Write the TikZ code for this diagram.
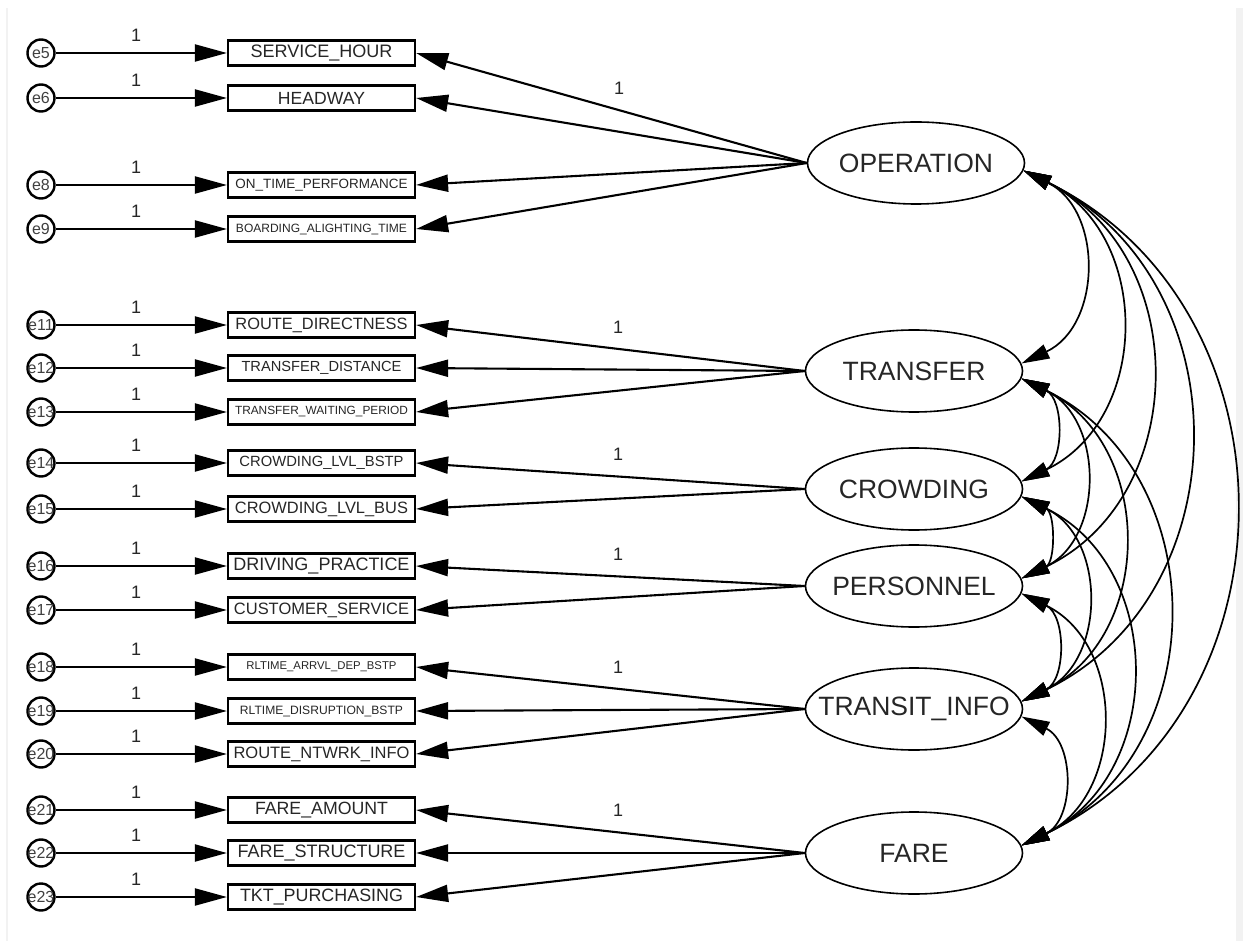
\documentclass[tikz,border=0pt]{standalone}
\usepackage{fontspec}
\setmainfont{Liberation Sans}
\usetikzlibrary{arrows.meta,calc,shapes.geometric}
\newcommand{\bt}[2]{\resizebox{#1pt}{!}{\fontsize{18}{18}\selectfont #2}}
\newcommand{\lt}[1]{\makebox[0pt]{#1}}
\begin{document}
\begin{tikzpicture}[x=1pt,y=-1pt,
  err/.style={circle, draw, line width=2.4pt, minimum size=27pt, inner sep=0pt, font=\fontsize{16}{16}\selectfont, text=black!75},
  obs/.style={rectangle, draw, line width=2.2pt, minimum width=187pt, minimum height=25pt, inner sep=0pt, text=black!85},
  lat/.style={ellipse, draw, line width=1.6pt, minimum width=217pt, minimum height=82pt, inner sep=0pt, font=\fontsize{26.5}{26.5}\selectfont, text=black!85},
  arr/.style={line width=2.1pt, -{Triangle[length=32pt,width=17pt]}},
  cov/.style={line width=1.7pt, {Triangle[length=28pt,width=15pt]}-{Triangle[length=28pt,width=15pt]}, bend left=64, looseness=1.18},
  one/.style={font=\fontsize{18}{18}\selectfont, inner sep=0pt, text=black!85},
  frame/.style={fill=black!5, draw=none}
]
\useasboundingbox[fill=white] (0,0) rectangle (1243,941);
\fill[frame] (6,8) rectangle (8,941);
\fill[frame] (1236,8) rectangle (1243,941);

% latent variables
\node[lat] (OP) at (916,163) {\lt{OPERATION}};
\node[lat] (TR) at (914,371) {\lt{TRANSFER}};
\node[lat] (CR) at (914,489) {\lt{CROWDING}};
\node[lat] (PE) at (914,586) {\lt{PERSONNEL}};
\node[lat] (TI) at (914,709) {\lt{TRANSIT\_INFO}};
\node[lat] (FA) at (914,853) {\lt{FARE}};

% observed variables
\foreach \n/\y/\w/\t in {
  5/53/142/SERVICE\_HOUR,
  6/98/87/HEADWAY,
  8/185/172/ON\_TIME\_PERFORMANCE,
  9/229/171/BOARDING\_ALIGHTING\_TIME,
  11/325/172/ROUTE\_DIRECTNESS,
  12/368/160/TRANSFER\_DISTANCE,
  13/412/173/TRANSFER\_WAITING\_PERIOD,
  14/463/164/CROWDING\_LVL\_BSTP,
  15/509/173/CROWDING\_LVL\_BUS,
  16/566/176/DRIVING\_PRACTICE,
  17/610/175/CUSTOMER\_SERVICE,
  18/667/150/RLTIME\_ARRVL\_DEP\_BSTP,
  19/711/163/RLTIME\_DISRUPTION\_BSTP,
  20/754/176/ROUTE\_NTWRK\_INFO,
  21/810/133/FARE\_AMOUNT,
  22/853/168/FARE\_STRUCTURE,
  23/897/163/TKT\_PURCHASING}{
  \node[obs] (v\n) at (321.5,\y) {\bt{\w}{\t}};
  \node[err] (e\n) at (41,\y) {\lt{e\n}};
  \draw[arr] (e\n.east) -- node[one, pos=0.47, yshift=18pt] {1} (v\n.west);
}

% loadings
\draw[arr] (OP.west) -- node[one, pos=0.48, yshift=22pt] {1} (v5.east);
\draw[arr] (OP.west) -- (v6.east);
\draw[arr] (OP.west) -- (v8.east);
\draw[arr] (OP.west) -- (v9.east);
\draw[arr] (TR.west) -- node[one, pos=0.48, yshift=22pt] {1} (v11.east);
\draw[arr] (TR.west) -- (v12.east);
\draw[arr] (TR.west) -- (v13.east);
\draw[arr] (CR.west) -- node[one, pos=0.48, yshift=22pt] {1} (v14.east);
\draw[arr] (CR.west) -- (v15.east);
\draw[arr] (PE.west) -- node[one, pos=0.48, yshift=22pt] {1} (v16.east);
\draw[arr] (PE.west) -- (v17.east);
\draw[arr] (TI.west) -- node[one, pos=0.48, yshift=22pt] {1} (v18.east);
\draw[arr] (TI.west) -- (v19.east);
\draw[arr] (TI.west) -- (v20.east);
\draw[arr] (FA.west) -- node[one, pos=0.48, yshift=22pt] {1} (v21.east);
\draw[arr] (FA.west) -- (v22.east);
\draw[arr] (FA.west) -- (v23.east);

% covariances
\foreach \a/\b in {OP/TR,OP/CR,OP/PE,OP/TI,OP/FA,TR/CR,TR/PE,TR/TI,TR/FA,CR/PE,CR/TI,CR/FA,PE/TI,PE/FA,TI/FA}{
  \draw[cov] (\a.-4.5) to (\b.4.5);
}
\end{tikzpicture}
\end{document}
